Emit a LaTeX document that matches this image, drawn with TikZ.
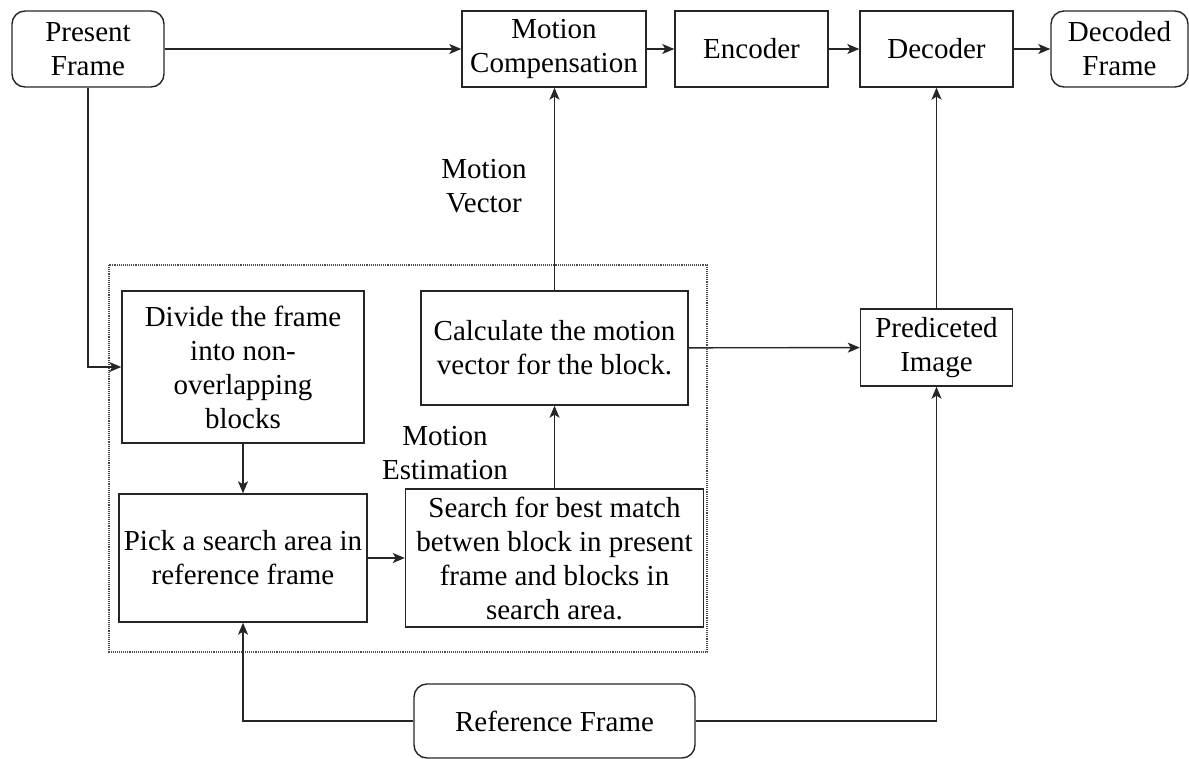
\documentclass[tikz,border=0pt]{standalone}
\usepackage{fontspec}
\setmainfont{Liberation Serif}
\usetikzlibrary{arrows.meta}
\begin{document}
\begin{tikzpicture}[x=1pt,y=-1pt,
  box/.style={draw=black!85, line width=1.4pt, inner sep=0pt, align=center,
              font=\fontsize{29}{34}\selectfont},
  rbox/.style={box, rounded corners=13pt},
  lbl/.style={inner sep=0pt, align=center, font=\fontsize{29}{34}\selectfont},
  link/.style={draw=black!85, line width=1.4pt,
               -{Stealth[length=12pt,width=10pt,inset=3pt]}},
  group/.style={draw=black!70, line width=1.1pt, densely dotted}]
\useasboundingbox (0,0) rectangle (1189,758);

% dotted frame around the motion estimation stage
\draw[group] (109,265) rectangle (707,652);

% top row
\node[rbox, minimum width=152pt, minimum height=76pt] (pf)  at (88,49)    {Present\\Frame};
\node[box,  minimum width=184pt, minimum height=76pt] (mc)  at (554,49)   {Motion\\Compensation};
\node[box,  minimum width=153pt, minimum height=76pt] (enc) at (751.5,49) {Encoder};
\node[box,  minimum width=153pt, minimum height=76pt] (dec) at (936.5,49) {Decoder};
\node[rbox, minimum width=137pt, minimum height=76pt] (df)  at (1119.5,49){Decoded\\Frame};

% motion estimation blocks
\node[box, minimum width=242pt, minimum height=152pt] (div)  at (243,367)   {Divide the frame\\into non-\\overlapping\\blocks};
\node[box, minimum width=248pt, minimum height=128pt] (pick) at (243,558)   {Pick a search area in\\reference frame};
\node[box, minimum width=267pt, minimum height=114pt] (calc) at (554.5,348) {Calculate the motion\\vector for the block.};
\node[box, minimum width=298pt, minimum height=138pt] (srch) at (554.5,558) {Search for best match\\betwen block in present\\frame and blocks in\\search area.};

% right column and bottom input
\node[box,  minimum width=152pt, minimum height=77pt] (pred) at (936.5,347.5) {Prediceted\\Image};
\node[rbox, minimum width=281pt, minimum height=74pt] (ref)  at (554.5,721)   {Reference Frame};

% labels
\node[lbl] (mvl) at (484,186) {Motion\\Vector};
\node[lbl] (mel) at (445,453) {Motion\\Estimation};

% connectors
\draw[link] (pf) -- (mc);
\draw[link] (mc) -- (enc);
\draw[link] (enc) -- (dec);
\draw[link] (dec) -- (df);
\draw[link] (pf.south) |- (div.west);
\draw[link] (div) -- (pick);
\draw[link] (pick) -- (srch);
\draw[link] (srch.north -| calc.south) -- (calc.south);
\draw[link] (calc.north) -- (calc.north |- mc.south);
\draw[link] (calc) -- (pred);
\draw[link] (pred) -- (dec);
\draw[link] (ref.west) -| (pick.south);
\draw[link] (ref.east) -| (pred.south);
\end{tikzpicture}
\end{document}
